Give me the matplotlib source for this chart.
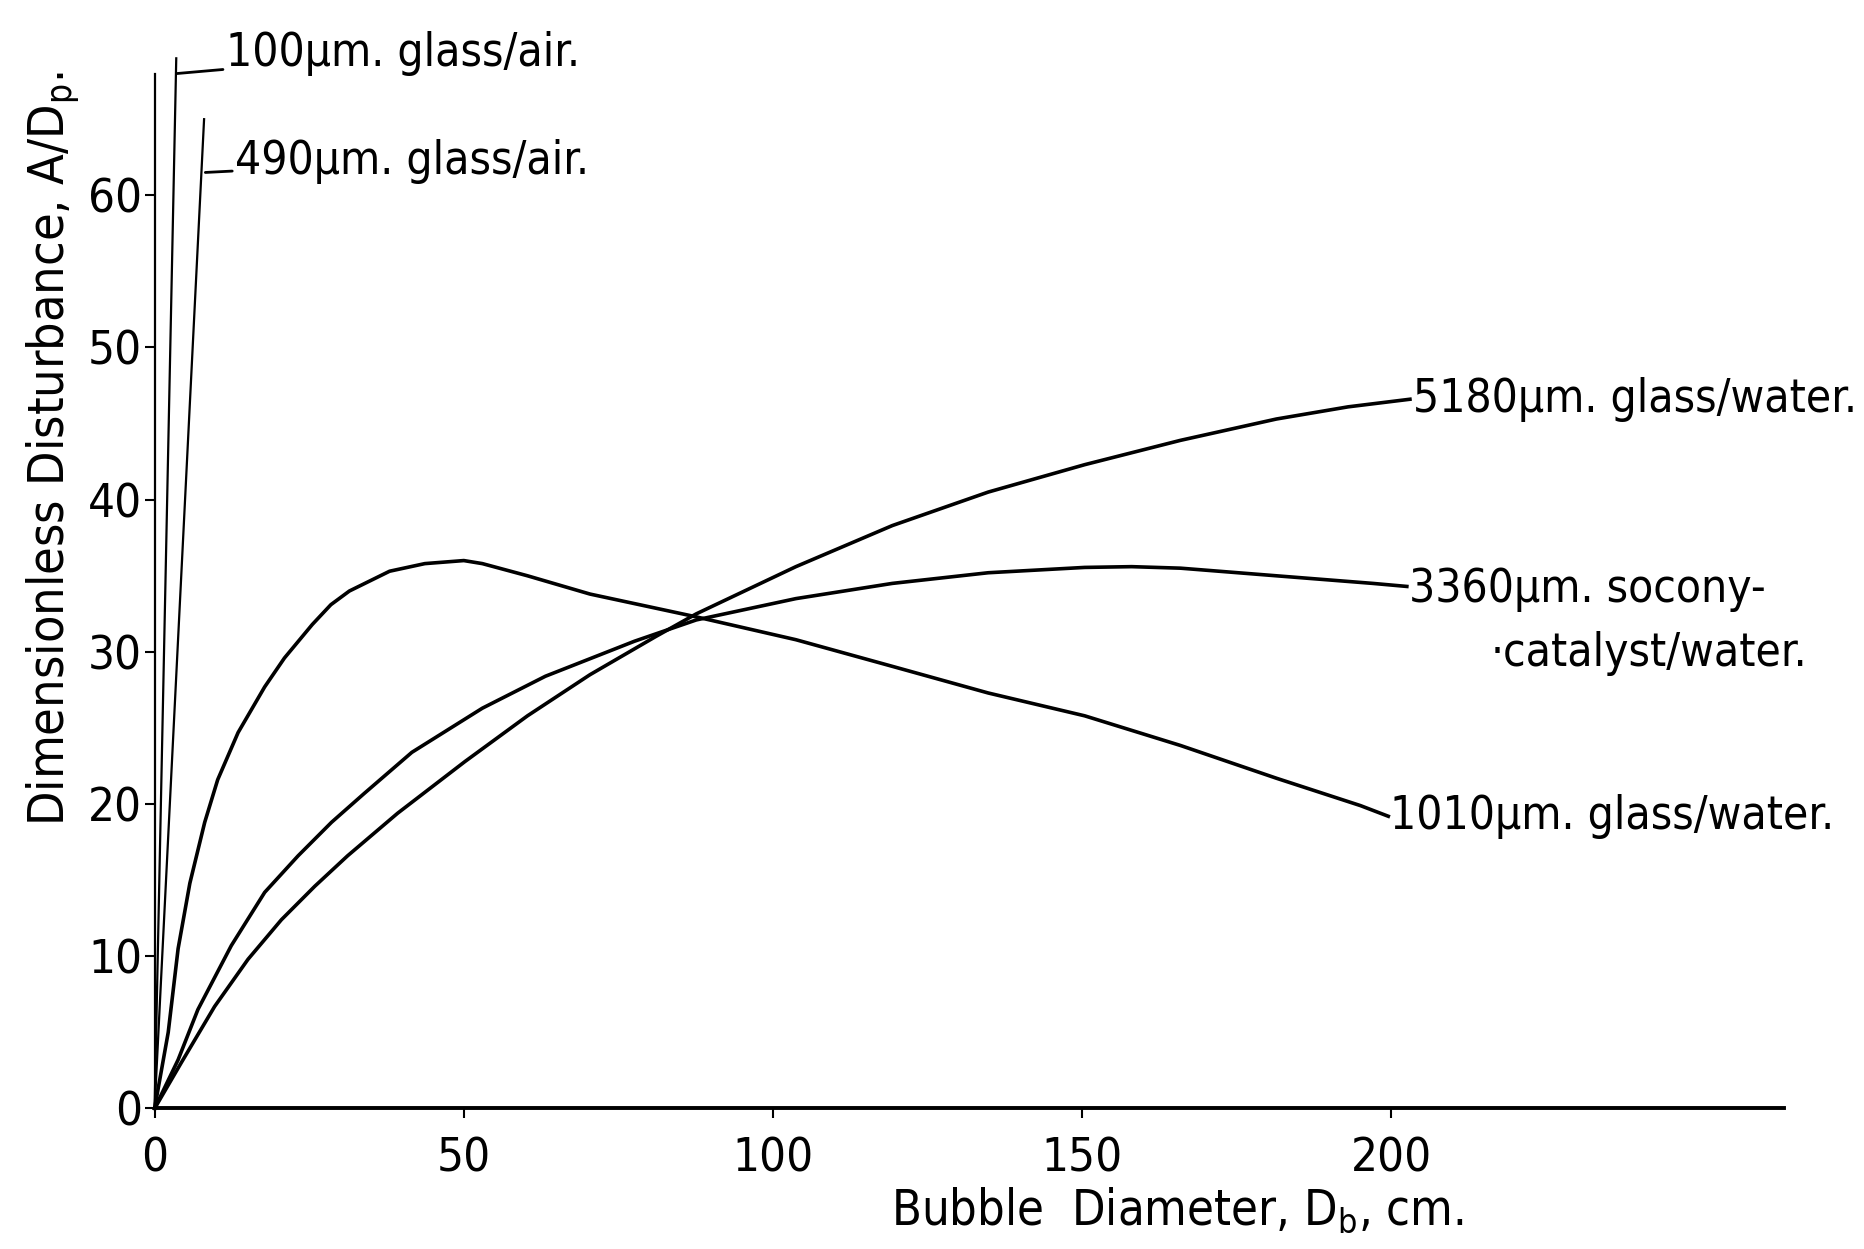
import matplotlib
matplotlib.use("Agg")
import matplotlib.pyplot as plt
from matplotlib import font_manager

# шрифт: вузький, як у рукописному кресленні (якщо є)
cond = font_manager.findfont(font_manager.FontProperties(family="DejaVu Sans", stretch="condensed"))
if "Condensed" in cond:
    plt.rcParams["font.family"] = ["DejaVu Sans"]
    plt.rcParams["font.stretch"] = "condensed"
    narrow = True
else:
    plt.rcParams["font.family"] = ["Liberation Sans", "DejaVu Sans"]
    narrow = False
plt.rcParams["mathtext.default"] = "regular"

# дані (D_b, см -> A/D_p)
x_100 = [0, 3.5]
y_100 = [0, 69.0]
x_490 = [0, 8.0]
y_490 = [0, 65.0]

x_1010 = [0, 2.2, 3.8, 5.7, 8.1, 10.2, 13.5, 17.8, 21, 25.5, 28.5, 31.5, 38,
          43.7, 50, 53, 60.3, 70.4, 87.6, 103.7, 119.3, 134.8, 150.4, 165.9,
          181.4, 195, 199.5]
y_1010 = [0, 5.0, 10.5, 14.8, 18.8, 21.6, 24.7, 27.7, 29.6, 31.8, 33.1, 34.0,
          35.3, 35.8, 36.0, 35.8, 35.0, 33.8, 32.3, 30.8, 29.05, 27.3, 25.8,
          23.85, 21.7, 19.9, 19.2]

x_3360 = [0, 3.8, 7, 12.4, 17.8, 23.2, 28.6, 33.9, 41.6, 53, 63.2, 77.6, 87.6,
          103.7, 119.3, 134.8, 150.4, 158, 165.9, 181.4, 197, 202.5]
y_3360 = [0, 3.2, 6.5, 10.7, 14.2, 16.6, 18.8, 20.7, 23.4, 26.3, 28.4, 30.7,
          32.1, 33.5, 34.5, 35.2, 35.55, 35.6, 35.5, 35.0, 34.5, 34.3]

x_5180 = [0, 4.3, 9.7, 15.1, 20.5, 25.9, 31.2, 39.3, 50.2, 60.3, 70.4, 81,
          87.6, 103.7, 119.3, 134.8, 150.4, 165.9, 181.4, 193, 203]
y_5180 = [0, 3.0, 6.7, 9.8, 12.4, 14.6, 16.6, 19.4, 22.8, 25.8, 28.5, 31.0,
          32.5, 35.6, 38.3, 40.5, 42.3, 43.9, 45.3, 46.1, 46.6]

xticks = [0, 50, 100, 150, 200]
yticks = [0, 10, 20, 30, 40, 50, 60]

fig = plt.figure(figsize=(18.65, 12.49), dpi=100)
ax = fig.add_axes([0.0829, 0.1125, 0.8737, 0.853])

ax.plot(x_100, y_100, color="black", lw=1.6, clip_on=False)
ax.plot(x_490, y_490, color="black", lw=1.6, clip_on=False)
ax.plot(x_1010, y_1010, color="black", lw=2.6, clip_on=False)
ax.plot(x_3360, y_3360, color="black", lw=2.6, clip_on=False)
ax.plot(x_5180, y_5180, color="black", lw=2.6, clip_on=False)

ax.set_xlim(0, 263.5)
ax.set_ylim(0, 70)
for s in ["top", "right"]:
    ax.spines[s].set_visible(False)
ax.spines["left"].set_bounds(0, 68)
ax.spines["left"].set_linewidth(1.6)
ax.spines["bottom"].set_linewidth(2.8)

ax.set_xticks(xticks)
ax.set_yticks(yticks)
tfs = 34 if narrow else 31
ax.tick_params(axis="x", direction="out", length=7, width=1.5, pad=13, labelsize=tfs)
ax.tick_params(axis="y", direction="out", length=7, width=1.5, pad=2, labelsize=tfs)

fs = 33 if narrow else 30
# підписи кривих
ax.annotate("100µm. glass/air.", xy=(3.6, 68.0), xytext=(11.5, 69.3),
            fontsize=fs, va="center", ha="left", annotation_clip=False,
            arrowprops=dict(arrowstyle="-", lw=2, shrinkA=0, shrinkB=0))
ax.annotate("490µm. glass/air.", xy=(8.2, 61.5), xytext=(13.0, 62.2),
            fontsize=fs, va="center", ha="left", annotation_clip=False,
            arrowprops=dict(arrowstyle="-", lw=2, shrinkA=0, shrinkB=0))
ax.text(203.5, 46.6, "5180µm. glass/water.", fontsize=fs, va="center", ha="left")
ax.text(202.8, 34.1, "3360µm. socony-", fontsize=fs, va="center", ha="left")
ax.text(216.0, 29.9, "·catalyst/water.", fontsize=fs, va="center", ha="left")
ax.text(199.7, 19.2, "1010µm. glass/water.", fontsize=fs, va="center", ha="left")

# підписи осей
fig.text(0.478, 0.0192, "Bubble  Diameter, D$_b$, cm.", fontsize=fs + 2,
         ha="left", va="baseline")
fig.text(0.0349, 0.3387, "Dimensionless Disturbance, A/D$_p$.", fontsize=fs + 3,
         rotation=90, rotation_mode="anchor", ha="left", va="baseline")

fig.savefig("out.png", dpi=100)
